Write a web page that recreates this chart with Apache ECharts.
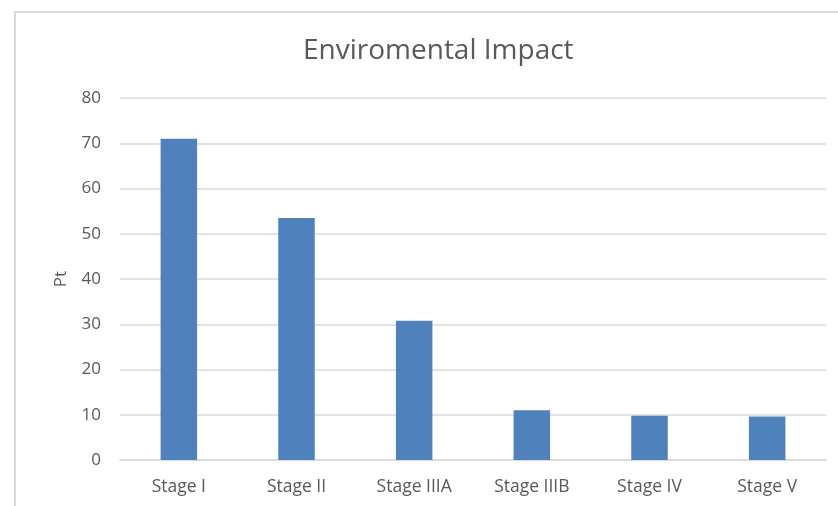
<!DOCTYPE html>
<html>
<head>
<meta charset="utf-8">
<script src="https://cdn.jsdelivr.net/npm/echarts@6/dist/echarts.min.js"></script>
<style>
  html, body { margin: 0; padding: 0; background: #fff; }
  #chart { width: 838px; height: 506px; }
</style>
</head>
<body>
<div id="chart"></div>
<script>
// Impact score per stage
const stages = ['Stage I', 'Stage II', 'Stage IIIA', 'Stage IIIB', 'Stage IV', 'Stage V'];
const impactPt = [71.0, 53.5, 30.8, 11.0, 9.8, 9.6];
const yTicks = { min: 0, max: 80, interval: 10 };

const FONT = '"Open Sans", sans-serif';
const TEXT = '#595959';
const GRID = '#d9d9d9';

const chart = echarts.init(document.getElementById('chart'), null, { renderer: 'canvas' });
chart.setOption({
  animation: false,
  backgroundColor: '#ffffff',
  graphic: [{
    type: 'rect',
    shape: { x: 15, y: 12, width: 900, height: 600 },
    style: { fill: 'none', stroke: GRID, lineWidth: 2 },
    silent: true
  }],
  title: {
    text: 'Enviromental Impact',
    left: 298,
    top: 32,
    textStyle: { fontFamily: FONT, fontSize: 28, fontWeight: 'normal', color: TEXT }
  },
  grid: { left: 120, right: 12, top: 98, bottom: 46, containLabel: false },
  xAxis: {
    type: 'category',
    data: stages,
    axisLine: { lineStyle: { color: GRID, width: 1.5 } },
    axisTick: { show: false },
    axisLabel: { fontFamily: FONT, fontSize: 17.5, color: TEXT, margin: 18 }
  },
  yAxis: {
    type: 'value',
    min: yTicks.min,
    max: yTicks.max,
    interval: yTicks.interval,
    name: 'Pt',
    nameLocation: 'middle',
    nameGap: 50,
    nameTextStyle: { fontFamily: FONT, fontSize: 17, color: TEXT },
    axisLine: { show: false },
    axisTick: { show: false },
    axisLabel: { fontFamily: FONT, fontSize: 17, color: TEXT, margin: 19 },
    splitLine: { lineStyle: { color: GRID, width: 1.5 } }
  },
  series: [{
    type: 'bar',
    data: impactPt,
    barWidth: '31%',
    itemStyle: { color: '#4f81bd' }
  }]
});
</script>
</body>
</html>
